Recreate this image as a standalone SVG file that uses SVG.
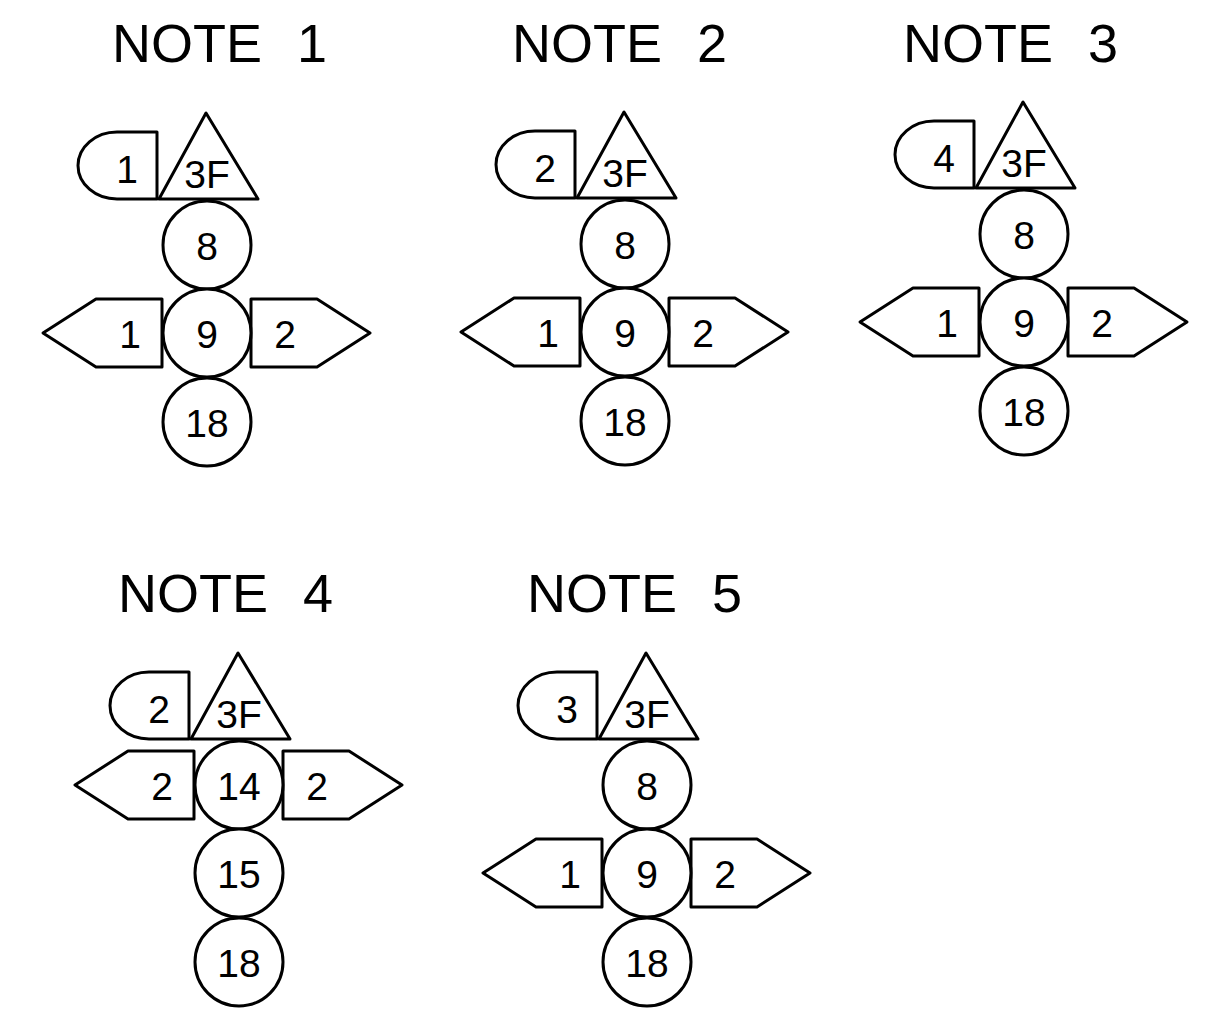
<svg xmlns="http://www.w3.org/2000/svg" width="1209" height="1036" viewBox="0 0 1209 1036">
<style>
.s{fill:#fff;stroke:#000;stroke-width:3;stroke-linejoin:round}
.t{font-family:"Liberation Sans",Arial,sans-serif;font-size:39px;text-anchor:middle;fill:#000}
.h{font-family:"Liberation Sans",Arial,sans-serif;font-size:54px;word-spacing:20px;fill:#000}
</style>
<rect width="1209" height="1036" fill="#fff"/>
<defs>
<path id="tab" d="M -50,-134 L -50,-201 L -90,-201 A 39 33.5 0 0 0 -90,-134 Z"/>
<path id="tri" d="M -1,-220 L -48,-134 L 51,-134 Z"/>
<path id="larr" d="M -45,-34 L -111,-34 L -164,0 L -111,34 L -45,34 Z"/>
<path id="rarr" d="M 44,-34 L 110,-34 L 163,0 L 110,34 L 44,34 Z"/>
</defs>
<g id="titles">
<text class="h" x="112" y="62">NOTE 1</text>
<text class="h" x="512" y="62">NOTE 2</text>
<text class="h" x="903" y="62">NOTE 3</text>
<text class="h" x="118" y="612">NOTE 4</text>
<text class="h" x="527" y="612">NOTE 5</text>
</g>
<g id="connectors"/>
<g id="note1" transform="translate(207,333)">
<g id="n1-tab"><use href="#tab" class="s"/><text class="t" x="-80" y="-150">1</text></g>
<g id="n1-tri"><use href="#tri" class="s"/><text class="t" x="0" y="-145">3F</text></g>
<g id="n1-c8"><circle class="s" cx="0" cy="-88" r="44"/><text class="t" x="0" y="-73">8</text></g>
<g id="n1-la"><use href="#larr" class="s"/><text class="t" x="-77" y="15">1</text></g>
<g id="n1-ra"><use href="#rarr" class="s"/><text class="t" x="78" y="15">2</text></g>
<g id="n1-c9"><circle class="s" cx="0" cy="0" r="44"/><text class="t" x="0" y="15">9</text></g>
<g id="n1-c18"><circle class="s" cx="0" cy="89" r="44"/><text class="t" x="0" y="104">18</text></g>
</g>
<g id="note2" transform="translate(625,332)">
<g id="n2-tab"><use href="#tab" class="s"/><text class="t" x="-80" y="-150">2</text></g>
<g id="n2-tri"><use href="#tri" class="s"/><text class="t" x="0" y="-145">3F</text></g>
<g id="n2-c8"><circle class="s" cx="0" cy="-88" r="44"/><text class="t" x="0" y="-73">8</text></g>
<g id="n2-la"><use href="#larr" class="s"/><text class="t" x="-77" y="15">1</text></g>
<g id="n2-ra"><use href="#rarr" class="s"/><text class="t" x="78" y="15">2</text></g>
<g id="n2-c9"><circle class="s" cx="0" cy="0" r="44"/><text class="t" x="0" y="15">9</text></g>
<g id="n2-c18"><circle class="s" cx="0" cy="89" r="44"/><text class="t" x="0" y="104">18</text></g>
</g>
<g id="note3" transform="translate(1024,322)">
<g id="n3-tab"><use href="#tab" class="s"/><text class="t" x="-80" y="-150">4</text></g>
<g id="n3-tri"><use href="#tri" class="s"/><text class="t" x="0" y="-145">3F</text></g>
<g id="n3-c8"><circle class="s" cx="0" cy="-88" r="44"/><text class="t" x="0" y="-73">8</text></g>
<g id="n3-la"><use href="#larr" class="s"/><text class="t" x="-77" y="15">1</text></g>
<g id="n3-ra"><use href="#rarr" class="s"/><text class="t" x="78" y="15">2</text></g>
<g id="n3-c9"><circle class="s" cx="0" cy="0" r="44"/><text class="t" x="0" y="15">9</text></g>
<g id="n3-c18"><circle class="s" cx="0" cy="89" r="44"/><text class="t" x="0" y="104">18</text></g>
</g>
<g id="note4" transform="translate(239,785)">
<g id="n4-tab"><use href="#tab" class="s" transform="translate(0,88)"/><text class="t" x="-80" y="-62">2</text></g>
<g id="n4-tri"><use href="#tri" class="s" transform="translate(0,88)"/><text class="t" x="0" y="-57">3F</text></g>
<g id="n4-la"><use href="#larr" class="s"/><text class="t" x="-77" y="15">2</text></g>
<g id="n4-ra"><use href="#rarr" class="s"/><text class="t" x="78" y="15">2</text></g>
<g id="n4-c14"><circle class="s" cx="0" cy="0" r="44"/><text class="t" x="0" y="15">14</text></g>
<g id="n4-c15"><circle class="s" cx="0" cy="88" r="44"/><text class="t" x="0" y="103">15</text></g>
<g id="n4-c18"><circle class="s" cx="0" cy="177" r="44"/><text class="t" x="0" y="192">18</text></g>
</g>
<g id="note5" transform="translate(647,873)">
<g id="n5-tab"><use href="#tab" class="s"/><text class="t" x="-80" y="-150">3</text></g>
<g id="n5-tri"><use href="#tri" class="s"/><text class="t" x="0" y="-145">3F</text></g>
<g id="n5-c8"><circle class="s" cx="0" cy="-88" r="44"/><text class="t" x="0" y="-73">8</text></g>
<g id="n5-la"><use href="#larr" class="s"/><text class="t" x="-77" y="15">1</text></g>
<g id="n5-ra"><use href="#rarr" class="s"/><text class="t" x="78" y="15">2</text></g>
<g id="n5-c9"><circle class="s" cx="0" cy="0" r="44"/><text class="t" x="0" y="15">9</text></g>
<g id="n5-c18"><circle class="s" cx="0" cy="89" r="44"/><text class="t" x="0" y="104">18</text></g>
</g>
</svg>
